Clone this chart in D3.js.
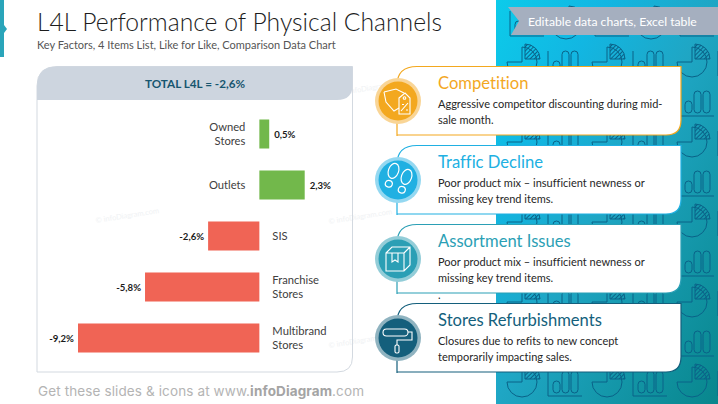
<!DOCTYPE html>
<html>
<head>
<meta charset="utf-8">
<script src="https://cdnjs.cloudflare.com/ajax/libs/d3/7.8.5/d3.min.js"></script>
<style>
html,body{margin:0;padding:0;background:#fff;overflow:hidden}
svg{display:block}
text{font-family:Lato,"Open Sans",sans-serif;font-variant-ligatures:none}
</style>
</head>
<body>
<script>
// chart data
var categories = [["Owned","Stores"],["Outlets"],["SIS"],["Franchise","Stores"],["Multibrand","Stores"]];
var values = [0.5,2.3,-2.6,-5.8,-9.2];
var valueLabels = ["0,5%","2,3%","-2,6%","-5,8%","-9,2%"];
var totalLabel = "TOTAL L4L = -2,6%";

// key factors list
var factorTitles = ["Competition","Traffic Decline","Assortment Issues","Stores Refurbishments"];
var factorLines = [
  ["Aggressive competitor discounting during mid-","sale month."],
  ["Poor product mix \u2013 insufficient newness or","missing key trend items."],
  ["Poor product mix \u2013 insufficient newness or","missing key trend items."],
  ["Closures due to refits to new concept","temporarily impacting sales."]
];
var factorColors = ["#f3a81f","#20b0e2","#2b9fb5","#145f7c"];
var factorRings = ["#f9d596","#94d8f1","#93cdd8","#8fb3c0"];
var cardTops = [66.5,145.5,224.5,303.5];

var width = 718, height = 404;
var svg = d3.select("body").append("svg").attr("width",width).attr("height",height);
var defs = svg.append("defs");

// right side background
var grad = defs.append("linearGradient").attr("id","bg").attr("x1","0").attr("y1","0").attr("x2","1").attr("y2","1");
grad.append("stop").attr("offset","0").attr("stop-color","#0ccbea");
grad.append("stop").attr("offset","0.25").attr("stop-color","#12b6e2");
grad.append("stop").attr("offset","0.5").attr("stop-color","#1fa6c4");
grad.append("stop").attr("offset","1").attr("stop-color","#08868c");

var hatch = defs.append("pattern").attr("id","hatch").attr("patternUnits","userSpaceOnUse")
  .attr("width",3).attr("height",3).attr("patternTransform","rotate(-45)");
hatch.append("line").attr("x1",0).attr("y1",0.5).attr("x2",3).attr("y2",0.5)
  .attr("stroke","#0a6288").attr("stroke-width",1);

defs.append("clipPath").attr("id","bgClip").append("rect")
  .attr("x",496).attr("y",0).attr("width",222).attr("height",404);

svg.append("rect").attr("x",496).attr("y",0).attr("width",222).attr("height",404).attr("fill","url(#bg)");

var tg = svg.append("g").attr("clip-path","url(#bgClip)").attr("fill","none")
  .attr("stroke","#0a6288").attr("stroke-width",1);

function pieIcon(g,cx,cy){
  g.append("path").attr("d",d3.arc()({innerRadius:0,outerRadius:15,startAngle:0,endAngle:Math.PI*1.5}))
    .attr("transform","translate("+cx+","+cy+")");
  g.append("path").attr("d",d3.arc()({innerRadius:0,outerRadius:15,startAngle:0,endAngle:Math.PI/2}))
    .attr("transform","translate("+(cx+3)+","+(cy-3)+")").attr("fill","url(#hatch)");
}
function barIcon(g,x,y){
  g.append("path").attr("d","M"+x+" "+y+"V"+(y+25)+"H"+(x+34));
  [[5,12],[14,22],[23,22]].forEach(function(b){
    g.append("rect").attr("x",x+b[0]).attr("y",y+22-b[1]).attr("width",7).attr("height",b[1]).attr("rx",3.5);
  });
}
d3.range(0,3).forEach(function(c){
  d3.range(0,5).forEach(function(r){
    var ox = 500+c*85, oy = r*80;
    pieIcon(tg,ox+22,oy+62); barIcon(tg,ox+48,oy+51);
    barIcon(tg,ox+10,oy+11); pieIcon(tg,ox+66,oy+24);
  });
});

// top left marker
svg.append("path").attr("d","M0 0H4V25L7 29L4 33V57H0Z").attr("fill","#2aa5ba");

// banner
svg.append("path").attr("d","M508 7H718V35H511L519 21Z").attr("fill","#a5afbf");
svg.append("text").attr("x",528).attr("y",25.5).attr("fill","#fff").attr("font-size",12.2)
  .text("Editable data charts, Excel table");

// titles
svg.append("text").attr("x",37).attr("y",31).attr("font-size",24.7).attr("font-weight",300).attr("fill","#1d1d1d")
  .text("L4L Performance of Physical Channels");
svg.append("text").attr("x",37).attr("y",49).attr("font-size",11).attr("fill","#555")
  .text("Key Factors, 4 Items List, Like for Like, Comparison Data Chart");

// footer
var foot = svg.append("text").attr("x",38).attr("y",396).attr("font-size",13.5).attr("fill","#b4b4b4")
  .style("font-family","Inter,sans-serif").attr("textLength",326);
foot.append("tspan").text("Get these slides & icons at www.");
foot.append("tspan").attr("font-weight","bold").attr("fill","#a4a4a4").text("infoDiagram");
foot.append("tspan").text(".com");

// watermarks
[[96,223],[329,224],[329,348],[341,95]].forEach(function(p){
  svg.append("text").attr("transform","translate("+p[0]+","+p[1]+") rotate(-9)")
    .attr("font-size",7.5).attr("fill","#f0f2f4").text("\u00a9 infoDiagram.com");
});

// chart panel
svg.append("path").attr("d","M37 86Q37 66.5 57 66.5H352.5V357Q352.5 372 337 372H37Z")
  .attr("fill","none").attr("stroke","#d3d9e0").attr("stroke-width",1);
svg.append("path").attr("d","M37 100V86Q37 66.5 57 66.5H352.5V85Q352.5 100 337 100Z").attr("fill","#cdd5df");
svg.append("text").attr("x",195).attr("y",87.5).attr("text-anchor","middle").attr("font-size",11.7)
  .attr("font-weight",700).attr("fill","#17566f").text(totalLabel);

var x = d3.scaleLinear().domain([-9.2,2.3]).range([78,304.7]);
var y = d3.scaleBand().domain(d3.range(values.length)).range([108.5,363.5]).paddingInner(0.431).paddingOuter(0.2155);

svg.selectAll(".bar").data(values).enter().append("rect").attr("class","bar")
  .attr("x",function(d){return Math.min(x(d),x(0));})
  .attr("y",function(d,i){return y(i);})
  .attr("width",function(d){return Math.abs(x(d)-x(0));})
  .attr("height",y.bandwidth())
  .attr("fill",function(d){return d<0?"#f06455":"#72b84b";});

svg.selectAll(".val").data(values).enter().append("text").attr("class","val")
  .attr("x",function(d){return d<0?x(d)-4:x(d)+5;})
  .attr("y",function(d,i){return y(i)+y.bandwidth()/2+3.5;})
  .attr("text-anchor",function(d){return d<0?"end":"start";})
  .attr("font-size",9.6).attr("font-weight",700).attr("fill","#1a1a1a")
  .text(function(d,i){return valueLabels[i];});

var catG = svg.selectAll(".cat").data(values).enter().append("text").attr("class","cat")
  .attr("text-anchor",function(d){return d<0?"start":"end";})
  .attr("font-size",11.2).attr("fill","#404040");
catG.each(function(d,i){
  var lines = categories[i], el = d3.select(this);
  var cy = y(i)+y.bandwidth()/2;
  lines.forEach(function(t,k){
    el.append("tspan").attr("x",d<0?x(0)+13:x(0)-14)
      .attr("y",cy+4+(k-(lines.length-1)/2)*14.7).text(t);
  });
});

// icons, white line drawings centred on 0,0
var iconDraw = [
  function(g){
    g.append("path").attr("d","M-14 -9L-2 -12L6 -8M-14 -9L-12 1L-4 10L1 7");
    g.append("path").attr("d","M1 -3L7 -8L12 -3V13H1Z");
    g.append("circle").attr("cx",6.5).attr("cy",-3).attr("r",1.3);
    g.append("path").attr("d","M3 10L10 2M4 3.5h2M8 9h2");
  },
  function(g){
    [[-6,-5,20],[7,1,20]].forEach(function(f){
      var s = g.append("g").attr("transform","translate("+f[0]+","+f[1]+") rotate("+f[2]+") scale(1.1)");
      s.append("ellipse").attr("cy",-4).attr("rx",4.6).attr("ry",7);
      s.append("ellipse").attr("cy",8.5).attr("rx",3.2).attr("ry",3);
    });
  },
  function(g){
    g.append("path").attr("d","M-12 -6L-6 -12H12V6L6 12H-12ZM-12 -6H6V12M6 -6L12 -12");
    g.append("path").attr("d","M-6 -6V3L-3 1L0 3V-6");
  },
  function(g){
    g.append("rect").attr("x",-15).attr("y",-9).attr("width",25).attr("height",7).attr("rx",3.5);
    g.append("path").attr("d","M10 -6H14V2H-1V7");
    g.append("rect").attr("x",-3).attr("y",7).attr("width",4).attr("height",8).attr("rx",1.5);
  }
];

// factor cards
var cardH = 68.5;
var card = svg.selectAll(".card").data(factorTitles).enter().append("g").attr("class","card")
  .attr("transform",function(d,i){return "translate(0,"+cardTops[i]+")";});

card.append("path").attr("d","M397 "+(cardH+1)+"V19Q397 0 417 0H681V"+(cardH-15)+"Q681 "+cardH+" 666 "+cardH+"H397Z")
  .attr("fill","#fff").attr("stroke",function(d,i){return factorColors[i];}).attr("stroke-width",1.2);
card.append("circle").attr("cx",398).attr("cy",34.5).attr("r",23).attr("fill",function(d,i){return factorRings[i];});
card.append("circle").attr("cx",398).attr("cy",34.5).attr("r",19.5).attr("fill",function(d,i){return factorColors[i];});
card.append("g").attr("transform","translate(398,34.5)").attr("fill","none").attr("stroke","#fff")
  .attr("stroke-width",1.1).each(function(d,i){iconDraw[i](d3.select(this));});
card.append("text").attr("x",438).attr("y",22).attr("font-size",16.6)
  .attr("fill",function(d,i){return factorColors[i];}).text(function(d){return d;});
card.each(function(d,i){
  var c = d3.select(this);
  factorLines[i].forEach(function(t,k){
    c.append("text").attr("x",438).attr("y",41.5+k*16).attr("font-size",11).attr("fill","#262626").text(t);
  });
});
svg.append("text").attr("x",438).attr("y",299).attr("font-size",11).attr("fill","#262626").text(".");
</script>
</body>
</html>
